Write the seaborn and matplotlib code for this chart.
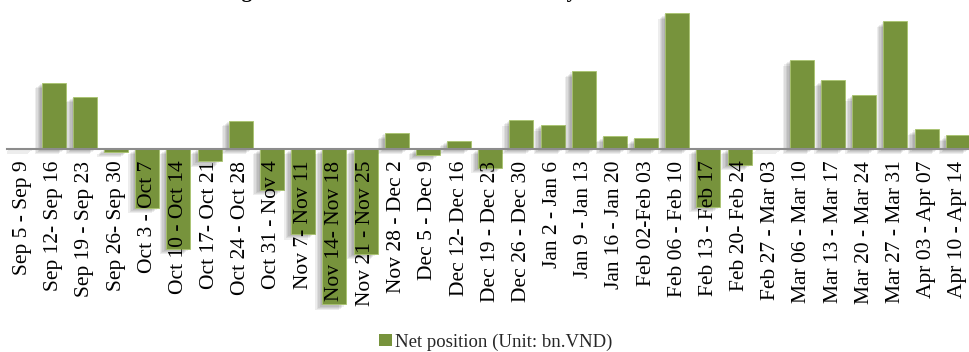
import matplotlib
matplotlib.use("Agg")
import matplotlib.pyplot as plt
import matplotlib.patheffects as pe
from matplotlib.patches import Patch
import seaborn as sns
import pandas as pd

weeks = [
    "Sep 5 - Sep 9", "Sep 12- Sep 16", "Sep 19 - Sep 23", "Sep 26- Sep 30",
    "Oct 3 - Oct 7", "Oct 10 - Oct 14", "Oct 17- Oct 21", "Oct 24 - Oct 28",
    "Oct 31 - Nov 4", "Nov 7- Nov 11", "Nov 14- Nov 18", "Nov 21 - Nov 25",
    "Nov 28 - Dec 2", "Dec 5 - Dec 9", "Dec 12- Dec 16", "Dec 19 - Dec 23",
    "Dec 26 - Dec 30", "Jan 2 - Jan 6", "Jan 9 - Jan 13", "Jan 16 - Jan 20",
    "Feb 02-Feb 03", "Feb 06 - Feb 10", "Feb 13 - Feb 17", "Feb 20- Feb 24",
    "Feb 27 - Mar 03", "Mar 06 - Mar 10", "Mar 13 - Mar 17", "Mar 20 - Mar 24",
    "Mar 27 - Mar 31", "Apr 03 - Apr 07", "Apr 10 - Apr 14",
]
net_position = [
    10, 660, 520, -30,
    -590, -1000, -125, 280,
    -410, -853, -1556, -1050,
    155, -60, 80, -188,
    287, 237, 774, 124,
    104, 1354, -580, -160,
    8, 887, 684, 537,
    1274, 194, 134,
]
series_label = "Net position (Unit: bn.VND)"
title_text = "Foreign investors' net transaction value by week"

BAR_COLOR = "#77933C"

sns.set_theme(style="white")
plt.rcParams["font.family"] = ["Liberation Serif", "DejaVu Serif"]

df = pd.DataFrame({"week": weeks, "value": net_position})

fig = plt.figure(figsize=(9.70, 3.52), dpi=100)
W, H = 970.0, 352.0
ax_left, ax_top, ax_bottom = 7, 0, 310
ax = fig.add_axes([ax_left / W, 1 - ax_bottom / H, 1 - ax_left / W, (ax_bottom - ax_top) / H])

sns.barplot(data=df, x="week", y="value", color=BAR_COLOR, saturation=1,
            width=0.77, ax=ax, edgecolor="#A9C46E", linewidth=0.6)

shadow = [pe.SimplePatchShadow(offset=(-o, -0.8 * o), shadow_rgbFace="black", alpha=0.07)
          for o in (1.0, 2.0, 3.0, 4.0, 5.0)]
for p in ax.patches:
    p.set_path_effects(shadow + [pe.Normal()])
    p.set_zorder(1)

ax.set_axisbelow(False)
ax.set_xlim(-0.5, 30.39)
ax.set_ylim(-1613, 1487)
ax.set_xlabel("")
ax.set_ylabel("")
ax.set_yticks([])
for s in ("top", "right", "left"):
    ax.spines[s].set_visible(False)
ax.spines["bottom"].set_position(("data", 0))
ax.spines["bottom"].set_color("#8C8C8C")
ax.spines["bottom"].set_linewidth(1.5)
ax.spines["bottom"].set_zorder(3)
ax.xaxis.set_zorder(4)
ax.tick_params(axis="x", length=0, pad=8.5, labelsize=15.5, labelcolor="black")
plt.setp(ax.get_xticklabels(), rotation=90, ha="center", va="top")
ax.patch.set_alpha(0)

fig.legend(handles=[Patch(facecolor=BAR_COLOR, edgecolor="none", label=series_label)],
           loc="center", bbox_to_anchor=(496 / W, 1 - 342 / H), frameon=False,
           fontsize=13.5, handlelength=0.65, handleheight=0.65, handletextpad=0.2,
           borderpad=0, borderaxespad=0)

fig.text(194 / W, 1 + 2.5 / H, title_text, ha="left", va="baseline",
         fontsize=15.2, fontweight="bold", color="black")

fig.savefig("out.png", dpi=100)
